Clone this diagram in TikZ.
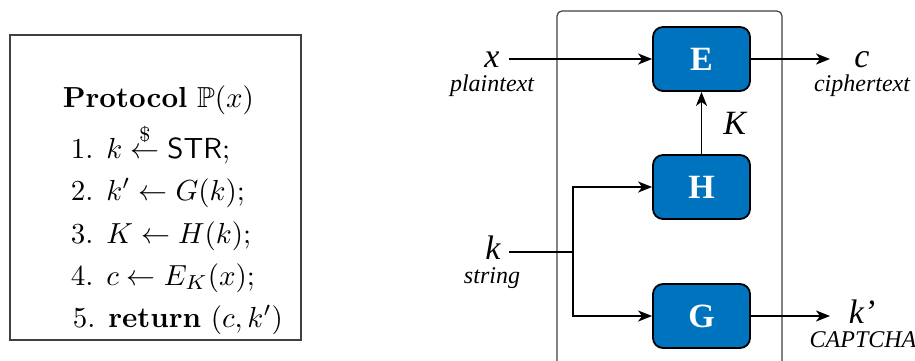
\documentclass[tikz,border=0pt]{standalone}
\usepackage{graphicx}
\usepackage{amssymb}
\usepackage{fontspec}
\newfontfamily\timesfont{Liberation Serif}[
  UprightFont={Liberation Serif},
  ItalicFont={Liberation Serif Italic},
  BoldFont={Liberation Serif Bold}]
\usetikzlibrary{arrows.meta}
\definecolor{boxblue}{RGB}{0,115,190}
\newcommand{\protoline}[1]{\scalebox{2.9}{#1}}

\begin{document}
\begin{tikzpicture}[x=1pt,y=-1pt,line width=1.8pt]
\tikzstyle{block}=[draw, fill=boxblue, rounded corners=10pt, minimum width=97pt, minimum height=64pt, text=white, font=\timesfont\bfseries\fontsize{34}{34}\selectfont]
\tikzstyle{sym}=[font=\timesfont\itshape\fontsize{34}{34}\selectfont, inner sep=0pt]
\tikzstyle{sub}=[font=\timesfont\itshape\fontsize{24}{24}\selectfont, inner sep=0pt]
\tikzstyle{proto}=[inner sep=0pt, anchor=base west]
\tikzstyle{frame}=[draw=black!75, line width=1.2pt]
\tikzstyle{arr}=[-{Stealth[length=14pt,width=11pt,inset=4pt]}]

\useasboundingbox (0,0) rectangle (915,360);

% protocol listing
\node[frame, minimum width=291pt, minimum height=305pt] (protobox) at (155.5,187.5) {};
\node[proto] (head) at (62,107) {\protoline{\textbf{Protocol} $\mathbb{P}(x)$}};
\node[proto] (l1) at (70,158) {\protoline{1. $k \stackrel{\$}{\leftarrow} \textsf{STR}$;}};
\node[proto] (l2) at (70,200) {\protoline{2. $k' \leftarrow G(k)$;}};
\node[proto] (l3) at (70,243) {\protoline{3. $K \leftarrow H(k)$;}};
\node[proto] (l4) at (70,285) {\protoline{4. $c \leftarrow E_K(x)$;}};
\node[proto] (l5) at (72,327) {\protoline{5. \textbf{return} $(c,k')$}};

% the scheme
\node[frame, rounded corners=5pt, minimum width=225pt, minimum height=369pt] (core) at (669.5,195.5) {};
\node[block] (E) at (701.5,59) {E};
\node[block] (H) at (701.5,187) {H};
\node[block] (G) at (701.5,316) {G};

\node[sym, anchor=base] (x) at (492,67) {x};
\node[sub, anchor=base] (xtxt) at (492,91) {plaintext};
\node[sym, anchor=base] (c) at (862,67) {c};
\node[sub, anchor=base] (ctxt) at (862,91) {ciphertext};
\node[sym, anchor=base] (k) at (493,259) {k};
\node[sub, anchor=base] (ktxt) at (492,283) {string};
\node[sym, anchor=base] (kp) at (862,323) {k’};
\node[sub, anchor=base] (kptxt) at (863,347) {CAPTCHA};

\coordinate (xin) at (509,59);
\coordinate (cout) at (830,59);
\coordinate (kin) at (509,252);
\coordinate (split) at (573,252);
\coordinate (kout) at (830,316);

\draw[arr] (xin) -- (E.west);
\draw[arr] (E.east) -- (cout);
\draw[arr] (H.north) -- (E.south) node [sym, midway, right=21pt] {K};
\draw (kin) -- (split);
\draw[arr] (split) |- (H.west);
\draw[arr] (split) |- (G.west);
\draw[arr] (G.east) -- (kout);
\end{tikzpicture}
\end{document}
